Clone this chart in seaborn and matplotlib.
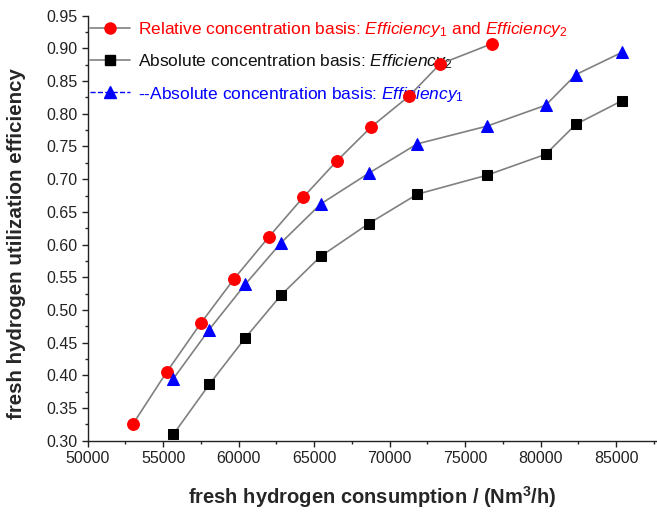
import matplotlib
matplotlib.use("Agg")
import matplotlib.pyplot as plt
from matplotlib.lines import Line2D
from matplotlib.ticker import MultipleLocator
import seaborn as sns
import pandas as pd

# ---- data ----
rel_x = [52980, 55230, 57500, 59710, 62010, 64260, 66510, 68780, 71280, 73330, 76760]
rel_y = [0.325, 0.405, 0.480, 0.548, 0.612, 0.672, 0.728, 0.780, 0.827, 0.876, 0.907]

abs_x = [55680, 58050, 60430, 62820, 65430, 68610, 71830, 76430, 80330, 82340, 85390]
abs_eff2 = [0.310, 0.386, 0.457, 0.523, 0.582, 0.632, 0.677, 0.706, 0.738, 0.784, 0.820]
abs_eff1 = [0.395, 0.470, 0.539, 0.603, 0.662, 0.709, 0.754, 0.781, 0.813, 0.860, 0.894]

labels = [
    r"Relative concentration basis: $\mathit{Efficiency}_{1}$ and $\mathit{Efficiency}_{2}$",
    r"Absolute concentration basis: $\mathit{Efficiency}_{2}$",
    r"--Absolute concentration basis: $\mathit{Efficiency}_{1}$",
]
xlabel = r"fresh hydrogen consumption / (Nm$^{\mathbf{3}}$/h)"
ylabel = "fresh hydrogen utilization efficiency"

sns.set_style("ticks")
plt.rcParams["font.family"] = ["Liberation Sans", "DejaVu Sans"]
plt.rcParams["mathtext.fontset"] = "custom"
plt.rcParams["mathtext.rm"] = "Liberation Sans"
plt.rcParams["mathtext.it"] = "Liberation Sans:italic"
plt.rcParams["mathtext.bf"] = "Liberation Sans:bold"

W, H = 657, 514
fig = plt.figure(figsize=(W / 100, H / 100), dpi=100)
x0, x1, y0, y1 = 87.7, 656, 15.7, 440.7
ax = fig.add_axes([x0 / W, 1 - y1 / H, (x1 - x0) / W, (y1 - y0) / H])

line_c = "#808080"
red, blue, black = "#ff0000", "#0000ff", "#000000"

df_rel = pd.DataFrame({"x": rel_x, "y": rel_y})
df_e2 = pd.DataFrame({"x": abs_x, "y": abs_eff2})
df_e1 = pd.DataFrame({"x": abs_x, "y": abs_eff1})

sns.lineplot(data=df_rel, x="x", y="y", ax=ax, color=line_c, lw=1.2, zorder=3,
             marker="o", markersize=8.5, markerfacecolor=red, markeredgecolor=red)
sns.lineplot(data=df_e2, x="x", y="y", ax=ax, color=line_c, lw=1.2, zorder=3,
             marker="s", markersize=7, markerfacecolor=black, markeredgecolor=black)
sns.lineplot(data=df_e1, x="x", y="y", ax=ax, color=line_c, lw=1.2, zorder=3,
             marker="^", markersize=9, markerfacecolor=blue, markeredgecolor=blue)

ax.set_xlim(50000, 87640)
ax.set_ylim(0.30, 0.95)
ax.xaxis.set_major_locator(MultipleLocator(5000))
ax.xaxis.set_minor_locator(MultipleLocator(2500))
ax.yaxis.set_major_locator(MultipleLocator(0.05))
ax.yaxis.set_minor_locator(MultipleLocator(0.025))
ax.yaxis.set_major_formatter(matplotlib.ticker.FormatStrFormatter("%.2f"))
ax.tick_params(which="major", direction="out", length=4, width=1, labelsize=11.5, colors="#222222")
ax.tick_params(which="minor", direction="out", length=2.5, width=1)
for s in ["top", "right"]:
    ax.spines[s].set_visible(False)
for s in ["left", "bottom"]:
    ax.spines[s].set_linewidth(1.0)
    ax.spines[s].set_color("#222222")

ax.set_xlabel(xlabel, fontsize=14.5, fontweight="bold", labelpad=13)
ax.set_ylabel(ylabel, fontsize=14.8, fontweight="bold")
ax.yaxis.set_label_coords(-0.108, 0.465)

handles = [
    Line2D([], [], color=line_c, lw=1.2, marker="o", markersize=8,
           markerfacecolor=red, markeredgecolor=red),
    Line2D([], [], color=line_c, lw=1.2, marker="s", markersize=6.5,
           markerfacecolor=black, markeredgecolor=black),
    Line2D([], [], color=blue, lw=1.0, ls="--", marker="^", markersize=8.5,
           markerfacecolor=blue, markeredgecolor=blue),
]
leg = ax.legend(handles, labels, loc="upper left", bbox_to_anchor=(-0.018, 1.019),
                frameon=False, fontsize=12.5, handlelength=2.3, handletextpad=0.5,
                labelspacing=0.77, borderaxespad=0.3,
                labelcolor=[red, "#111111", blue])
leg.set_zorder(1)

fig.savefig("out.png", dpi=100)
